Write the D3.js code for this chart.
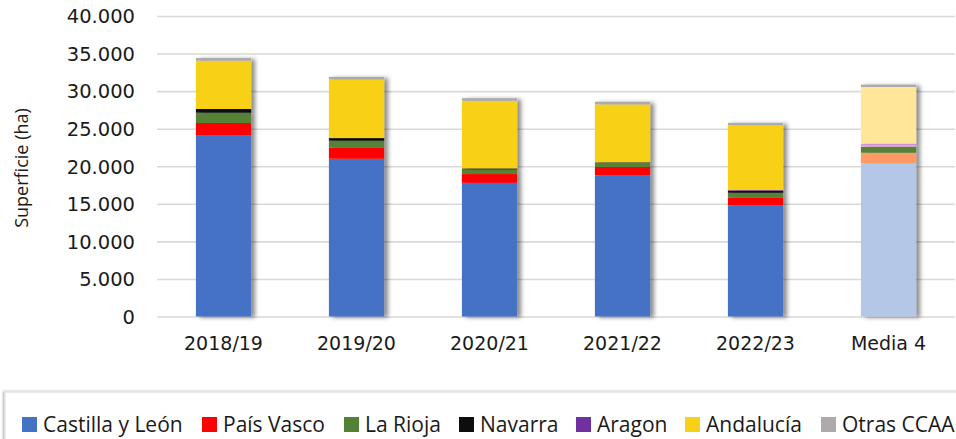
<!DOCTYPE html>
<html>
<head>
<meta charset="utf-8">
<script src="https://cdn.jsdelivr.net/npm/d3@7"></script>
<style>
  body { margin: 0; background: #fff; }
  .tick text { font-family: "DejaVu Sans", sans-serif; fill: #1a1a1a; }
  .legend text { font-family: "Open Sans", sans-serif; fill: #1a1a1a; }
</style>
</head>
<body>
<div id="chart"></div>
<script>
// categories and series (ha)
var years = ["2018/19", "2019/20", "2020/21", "2021/22", "2022/23", "Media 4"];
var regions = ["Castilla y León", "País Vasco", "La Rioja", "Navarra", "Aragon", "Andalucía", "Otras CCAA"];

var castilla  = [24160, 21000, 17800, 18800, 14800, 20400];
var paisVasco = [1600, 1500, 1160, 1110, 1000, 1400];
var rioja     = [1370, 900, 620, 570, 670, 800];
var navarra   = [490, 350, 130, 50, 250, 250];
var aragon    = [0, 0, 0, 0, 100, 150];
var andalucia = [6420, 7800, 9000, 7700, 8650, 7550];
var otras     = [360, 350, 350, 360, 310, 320];

var yTicks = [0, 5000, 10000, 15000, 20000, 25000, 30000, 35000, 40000];

var colors = ["#4472C4", "#FF0000", "#548235", "#0D0D0D", "#7030A0", "#F8D018", "#AEAAAA"];
// the "Media 4" bar uses lighter tones
var lightColors = ["#B4C7E7", "#FF9966", "#548235", "#E7A3D2", "#C98BDB", "#FFE699", "#AEAAAA"];

var width = 956, height = 439;
var margin = {top: 16, right: 1, bottom: 122, left: 157};

var rows = years.map(function(y, i) {
    return {
        year: y,
        "Castilla y León": castilla[i],
        "País Vasco": paisVasco[i],
        "La Rioja": rioja[i],
        "Navarra": navarra[i],
        "Aragon": aragon[i],
        "Andalucía": andalucia[i],
        "Otras CCAA": otras[i]
    };
});

var stacked = d3.stack().keys(regions)(rows);

var x = d3.scaleBand()
    .domain(years)
    .range([margin.left, width - margin.right])
    .paddingInner(0.585)
    .paddingOuter(0.2925);

var y = d3.scaleLinear()
    .domain([0, 40000])
    .range([height - margin.bottom - 0.5, margin.top]);

var fmt = function(d) { return d3.format(",")(d).replace(/,/g, "."); };

var svg = d3.select("#chart").append("svg")
    .attr("width", width)
    .attr("height", height);

var defs = svg.append("defs");
var shadow = defs.append("filter")
    .attr("id", "shadow")
    .attr("x", "-20%").attr("y", "-10%")
    .attr("width", "150%").attr("height", "130%");
shadow.append("feDropShadow")
    .attr("dx", 4).attr("dy", 1)
    .attr("stdDeviation", 2.2)
    .attr("flood-color", "#000")
    .attr("flood-opacity", 0.45);

var legendShadow = defs.append("filter").attr("id", "lshadow");
legendShadow.append("feDropShadow")
    .attr("dx", -1).attr("dy", 0)
    .attr("stdDeviation", 1.2)
    .attr("flood-color", "#000")
    .attr("flood-opacity", 0.35);

// GRIDLINES + Y AXIS

var yAxis = d3.axisLeft(y)
    .tickValues(yTicks)
    .tickFormat(fmt)
    .tickSize(-(width - margin.right - margin.left))
    .tickPadding(22);

svg.append("g")
    .attr("class", "y axis")
    .attr("transform", "translate(" + margin.left + ",0)")
    .call(yAxis)
    .call(function(g) {
        g.select(".domain").remove();
        g.selectAll(".tick line").attr("stroke", "#d9d9d9").attr("stroke-width", 1.6);
        g.selectAll(".tick text").attr("font-size", "19.5px").attr("dy", "0.35em");
    });

// X AXIS LABELS

svg.append("g")
    .attr("class", "x axis")
    .attr("transform", "translate(0," + y(0) + ")")
    .call(d3.axisBottom(x).tickSize(0).tickPadding(20))
    .call(function(g) {
        g.select(".domain").remove();
        g.selectAll(".tick text").attr("font-size", "19px");
    });

// AXIS TITLE

svg.append("text")
    .attr("transform", "translate(28,168) rotate(-90)")
    .attr("text-anchor", "middle")
    .style("font-family", "'Open Sans', sans-serif")
    .style("font-size", "18px")
    .style("fill", "#1a1a1a")
    .text("Superficie (ha)");

// BARS

var bars = svg.append("g").selectAll(".bar")
    .data(years)
    .enter().append("g")
    .attr("class", "bar")
    .attr("filter", "url(#shadow)");

bars.selectAll("rect")
    .data(function(yr, i) {
        return stacked.map(function(s, k) {
            return {year: yr, key: s.key, k: k, y0: s[i][0], y1: s[i][1]};
        }).filter(function(d) { return d.y1 > d.y0; });
    })
    .enter().append("rect")
    .attr("x", function(d) { return x(d.year); })
    .attr("width", x.bandwidth())
    .attr("y", function(d) { return y(d.y1); })
    .attr("height", function(d) { return y(d.y0) - y(d.y1); })
    .attr("fill", function(d) {
        return d.year === "Media 4" ? lightColors[d.k] : colors[d.k];
    });

// LEGEND

var legend = svg.append("g").attr("class", "legend");

legend.append("rect")
    .attr("x", 5).attr("y", 392)
    .attr("width", 960).attr("height", 60)
    .attr("fill", "#fff")
    .attr("stroke", "#e3e3e3")
    .attr("stroke-width", 1.5)
    .attr("filter", "url(#lshadow)");

var legendX = [22, 202, 344, 459, 576, 685, 821];

var item = legend.selectAll(".item")
    .data(regions)
    .enter().append("g")
    .attr("class", "item")
    .attr("transform", function(d, i) { return "translate(" + legendX[i] + ",417)"; });

item.append("rect")
    .attr("width", 15).attr("height", 15)
    .attr("fill", function(d, i) { return colors[i]; });

item.append("text")
    .attr("x", 21)
    .attr("y", 15)
    .style("font-size", "21px")
    .text(function(d) { return d; });
</script>
</body>
</html>
